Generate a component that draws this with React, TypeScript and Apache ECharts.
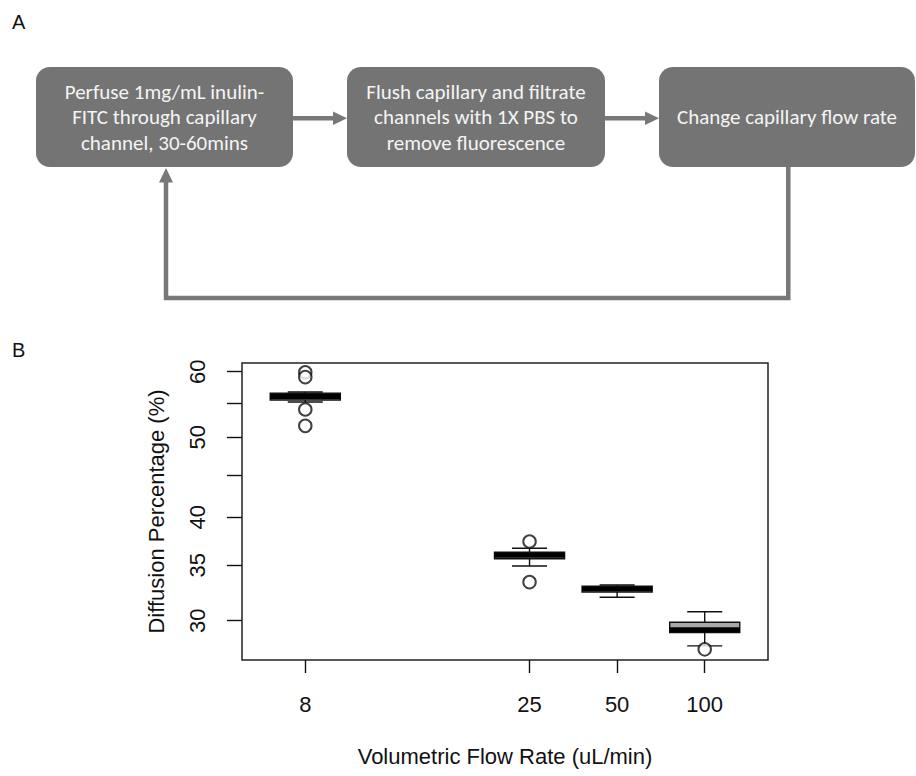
import React, { useEffect, useRef } from 'react';
import * as echarts from 'echarts';

// ---- data ----
const flowRates = ['8', '25', '50', '100'];
const xPositions = [1, 3.56, 4.56, 5.56];
const whiskerLow = [55.15, 34.93, 32.02, 27.97];
const quartile1 = [55.45, 35.65, 32.49, 29.02];
const medians = [56.0, 35.99, 32.79, 29.26];
const quartile3 = [56.5, 36.29, 33.03, 29.87];
const whiskerHigh = [56.7, 36.7, 33.13, 30.76];
const outliers: number[][] = [[59.9, 59.1, 54.0, 51.6], [37.4, 33.4], [], [27.7]];
const yTickValues = [30, 35, 40, 45, 50, 55, 60];
const yLabelValues = [30, 35, 40, 50, 60];
const steps = [
  'Perfuse 1mg/mL inulin-\nFITC through capillary\nchannel, 30-60mins',
  'Flush capillary and filtrate\nchannels with 1X PBS to\nremove fluorescence',
  'Change capillary flow rate',
];

const FONT = '"Liberation Sans", Arial, sans-serif';
const FLOW_FONT = 'Carlito, Lato, "Noto Sans", sans-serif';
const GREY = '#747474';
const ARROW = '#787878';

export default function App() {
  const ref = useRef<HTMLDivElement>(null);
  useEffect(() => {
    document.body.style.margin = '0';
    const chart = echarts.init(ref.current!, null, { renderer: 'svg' });

    const span = xPositions[xPositions.length - 1] - xPositions[0] + 1;
    const xMin = xPositions[0] - 0.5 - 0.04 * span;
    const xMax = xPositions[xPositions.length - 1] + 0.5 + 0.04 * span;

    const boxData = xPositions.map((x, i) => [x, whiskerLow[i], quartile1[i], medians[i], quartile3[i], whiskerHigh[i]]);
    const outlierData: number[][] = [];
    outliers.forEach((arr, i) => arr.forEach((v) => outlierData.push([xPositions[i], v])));

    const renderBox = (params: any, api: any) => {
      const x = api.value(0);
      const lo = api.value(1), q1 = api.value(2), md = api.value(3), q3 = api.value(4), hi = api.value(5);
      const half = 0.4, cap = 0.2;
      const c = (xx: number, v: number) => api.coord([xx, v]);
      const pLo = c(x, lo), pQ1 = c(x, q1), pMd = c(x, md), pQ3 = c(x, q3), pHi = c(x, hi);
      const left = c(x - half, md)[0], right = c(x + half, md)[0];
      const capL = c(x - cap, md)[0], capR = c(x + cap, md)[0];
      const ls = { stroke: '#111', lineWidth: 1.4 };
      return {
        type: 'group',
        children: [
          { type: 'line', shape: { x1: pHi[0], y1: pHi[1], x2: pQ3[0], y2: pQ3[1] }, style: ls },
          { type: 'line', shape: { x1: pLo[0], y1: pLo[1], x2: pQ1[0], y2: pQ1[1] }, style: ls },
          { type: 'line', shape: { x1: capL, y1: pHi[1], x2: capR, y2: pHi[1] }, style: ls },
          { type: 'line', shape: { x1: capL, y1: pLo[1], x2: capR, y2: pLo[1] }, style: ls },
          {
            type: 'rect',
            shape: { x: left, y: pQ3[1], width: right - left, height: pQ1[1] - pQ3[1] },
            style: { fill: '#a8a8a8', stroke: '#111', lineWidth: 1.4 },
          },
          { type: 'line', shape: { x1: left, y1: pMd[1], x2: right, y2: pMd[1] }, style: { stroke: '#000', lineWidth: 5 } },
        ],
      };
    };

    const boxes = [
      { x: 36, w: 257 },
      { x: 347, w: 258 },
      { x: 659, w: 256 },
    ];
    const boxY = 67, boxH = 100;

    const graphic: any[] = [];
    boxes.forEach((b, i) => {
      graphic.push({
        type: 'rect',
        shape: { x: b.x, y: boxY, width: b.w, height: boxH, r: 14 },
        style: { fill: GREY },
      });
      graphic.push({
        type: 'text',
        x: b.x + b.w / 2,
        y: boxY + boxH / 2,
        style: {
          text: steps[i],
          fill: '#f4f4f4',
          fontSize: 21,
          fontFamily: FLOW_FONT,
          align: 'center',
          verticalAlign: 'middle',
          lineHeight: 25.5,
        },
      });
    });
    // arrows between boxes
    graphic.push({ type: 'line', shape: { x1: 293, y1: 118.3, x2: 335, y2: 118.3 }, style: { stroke: ARROW, lineWidth: 4.5 } });
    graphic.push({ type: 'polygon', shape: { points: [[333, 111.5], [347, 118.3], [333, 125.1]] }, style: { fill: ARROW } });
    graphic.push({ type: 'line', shape: { x1: 605, y1: 118.3, x2: 647, y2: 118.3 }, style: { stroke: ARROW, lineWidth: 4.5 } });
    graphic.push({ type: 'polygon', shape: { points: [[645, 111.5], [659, 118.3], [645, 125.1]] }, style: { fill: ARROW } });
    // feedback loop
    graphic.push({
      type: 'polyline',
      shape: { points: [[788.3, 167], [788.3, 298], [166, 298], [166, 181]] },
      style: { stroke: ARROW, lineWidth: 4.5, fill: 'none', lineJoin: 'miter' },
    });
    graphic.push({ type: 'polygon', shape: { points: [[159, 182.5], [166, 168], [173, 182.5]] }, style: { fill: ARROW } });
    // panel labels
    graphic.push({ type: 'text', x: 12, y: 22, style: { text: 'A', fontSize: 20, fontFamily: FONT, fill: '#111', verticalAlign: 'middle' } });
    graphic.push({ type: 'text', x: 12, y: 350, style: { text: 'B', fontSize: 20, fontFamily: FONT, fill: '#111', verticalAlign: 'middle' } });

    const option: any = {
      animation: false,
      backgroundColor: '#ffffff',
      grid: {
        left: 242,
        top: 363,
        width: 526,
        height: 297,
        show: true,
        borderColor: '#222',
        borderWidth: 1.5,
        backgroundColor: 'transparent',
        containLabel: false,
        outerBoundsMode: 'none',
      },
      xAxis: {
        type: 'value',
        min: xMin,
        max: xMax,
        name: 'Volumetric Flow Rate (uL/min)',
        nameLocation: 'middle',
        nameGap: 85,
        nameMoveOverlap: false,
        nameTextStyle: { fontFamily: FONT, fontSize: 22, color: '#111' },
        axisLine: { show: false },
        splitLine: { show: false },
        axisTick: { show: true, length: 13, customValues: xPositions, lineStyle: { color: '#111', width: 1.4 } },
        axisLabel: {
          customValues: xPositions,
          margin: 33,
          fontFamily: FONT,
          fontSize: 22,
          color: '#111',
          formatter: (v: number) => {
            const i = xPositions.findIndex((p) => Math.abs(p - v) < 1e-6);
            return i >= 0 ? flowRates[i] : '';
          },
        },
      },
      yAxis: {
        type: 'log',
        logBase: 10,
        min: 26.89,
        max: 61.47,
        name: 'Diffusion Percentage (%)',
        nameLocation: 'middle',
        nameRotate: 90,
        nameGap: 75,
        nameMoveOverlap: false,
        nameTextStyle: { fontFamily: FONT, fontSize: 22, color: '#111' },
        axisLine: { show: false },
        splitLine: { show: false },
        minorTick: { show: false },
        axisTick: { show: true, length: 15, customValues: yTickValues, lineStyle: { color: '#111', width: 1.4 } },
        axisLabel: {
          customValues: yLabelValues,
          rotate: 90,
          margin: 34,
          fontFamily: FONT,
          fontSize: 22,
          color: '#111',
        },
      },
      graphic,
      series: [
        {
          type: 'custom',
          renderItem: renderBox,
          data: boxData,
          encode: { x: 0, y: [1, 2, 3, 4, 5] },
          z: 2,
        },
        {
          type: 'scatter',
          data: outlierData,
          symbol: 'emptyCircle',
          symbolSize: 12.5,
          itemStyle: { color: '#111', borderColor: '#111', borderWidth: 1.4 },
          z: 3,
        },
      ],
    };
    chart.setOption(option);
    return () => chart.dispose();
  }, []);

  return <div ref={ref} style={{ position: 'fixed', left: 0, top: 0, width: 916, height: 776, background: '#fff' }} />;
}
